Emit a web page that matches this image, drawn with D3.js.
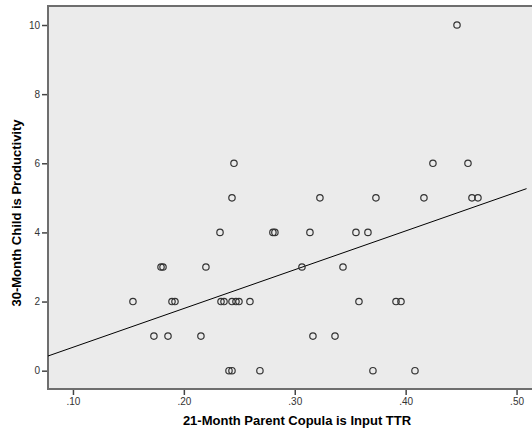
<!DOCTYPE html>
<html>
<head>
<meta charset="utf-8">
<script src="https://cdn.jsdelivr.net/npm/d3@7"></script>
<style>
  body { margin: 0; background: #fff; }
  svg { display: block; }
  text { font-family: Arial, "Liberation Sans", sans-serif; }
</style>
</head>
<body>
<div id="chart"></div>
<script>
// points: x = parent copula TTR, y = child productivity
let ttr = [
  .2407, .2434, .2686, .3705, .4084,
  .1730, .1857, .2154, .3164, .3363,
  .1541, .1893, .1920, .2335, .2362, .2434, .2470, .2497, .2596, .3579, .3913, .3958,
  .1794, .1812, .2199, .3065, .3435,
  .2326, .2803, .2821, .3137, .3552, .3660,
  .2434, .3227, .3732, .4165, .4598, .4652,
  .2452, .4246, .4562,
  .4463
];
let productivity = [
  0, 0, 0, 0, 0,
  1, 1, 1, 1, 1,
  2, 2, 2, 2, 2, 2, 2, 2, 2, 2, 2, 2,
  3, 3, 3, 3, 3,
  4, 4, 4, 4, 4, 4,
  5, 5, 5, 5, 5, 5,
  6, 6, 6,
  10
];
let xTicks = [.1, .2, .3, .4, .5];
let yTicks = [0, 2, 4, 6, 8, 10];
// fit line as drawn
let fitIntercept = -0.445;
let fitSlope = 11.22;

let width = 532, height = 432;
let margin = {top: 6, left: 48, bottom: 43};

let svg = d3.select("#chart").append("svg")
    .attr("width", width)
    .attr("height", height);

let x = d3.scaleLinear().domain([0.0775, 0.5]).range([margin.left, margin.left + (0.5 - 0.0775) * 1109]);
let y = d3.scaleLinear().domain([-0.53, 10.55]).range([height - margin.bottom, margin.top]);

let plotW = width + 10 - margin.left;
let plotH = height - margin.bottom - margin.top;

svg.append("rect")
    .attr("x", margin.left)
    .attr("y", margin.top)
    .attr("width", plotW)
    .attr("height", plotH)
    .attr("fill", "#ebebeb")
    .attr("stroke", "#6e6e6e")
    .attr("stroke-width", 2);

// axes
let xAxis = svg.append("g")
    .attr("transform", "translate(0," + (height - margin.bottom + 1) + ")")
    .call(d3.axisBottom(x).tickValues(xTicks).tickSize(5).tickPadding(3)
        .tickFormat(d => d3.format(".2f")(d).replace(/^0/, "")));
let yAxis = svg.append("g")
    .attr("transform", "translate(" + (margin.left - 1) + ",0)")
    .call(d3.axisLeft(y).tickValues(yTicks).tickSize(5).tickPadding(2));

[xAxis, yAxis].forEach(function(g){
    g.select(".domain").remove();
    g.selectAll(".tick line").attr("stroke", "#444").attr("stroke-width", 1.5);
    g.selectAll(".tick text").attr("fill", "#333").style("font-size", "10px");
});

// fit line
let lineData = [x.domain()[0], 0.5 + 10 / 1109].map(v => ({x: v, y: fitIntercept + fitSlope * v}));
svg.append("path")
    .datum(lineData)
    .attr("fill", "none")
    .attr("stroke", "#000")
    .attr("stroke-width", 1)
    .attr("d", d3.line().x(d => x(d.x)).y(d => y(d.y)));

// points
svg.append("g").selectAll("circle")
    .data(ttr)
    .join("circle")
    .attr("cx", d => x(d))
    .attr("cy", (d, i) => y(productivity[i]))
    .attr("r", 3.2)
    .attr("fill", "none")
    .attr("stroke", "#333")
    .attr("stroke-width", 1.2);

// titles
svg.append("text")
    .attr("x", 297)
    .attr("y", 425)
    .attr("text-anchor", "middle")
    .style("font-size", "13px")
    .style("font-weight", "bold")
    .text("21-Month Parent Copula is Input TTR");

svg.append("text")
    .attr("transform", "translate(21,213) rotate(-90)")
    .attr("text-anchor", "middle")
    .style("font-size", "13px")
    .style("font-weight", "bold")
    .text("30-Month Child is Productivity");
</script>
</body>
</html>
